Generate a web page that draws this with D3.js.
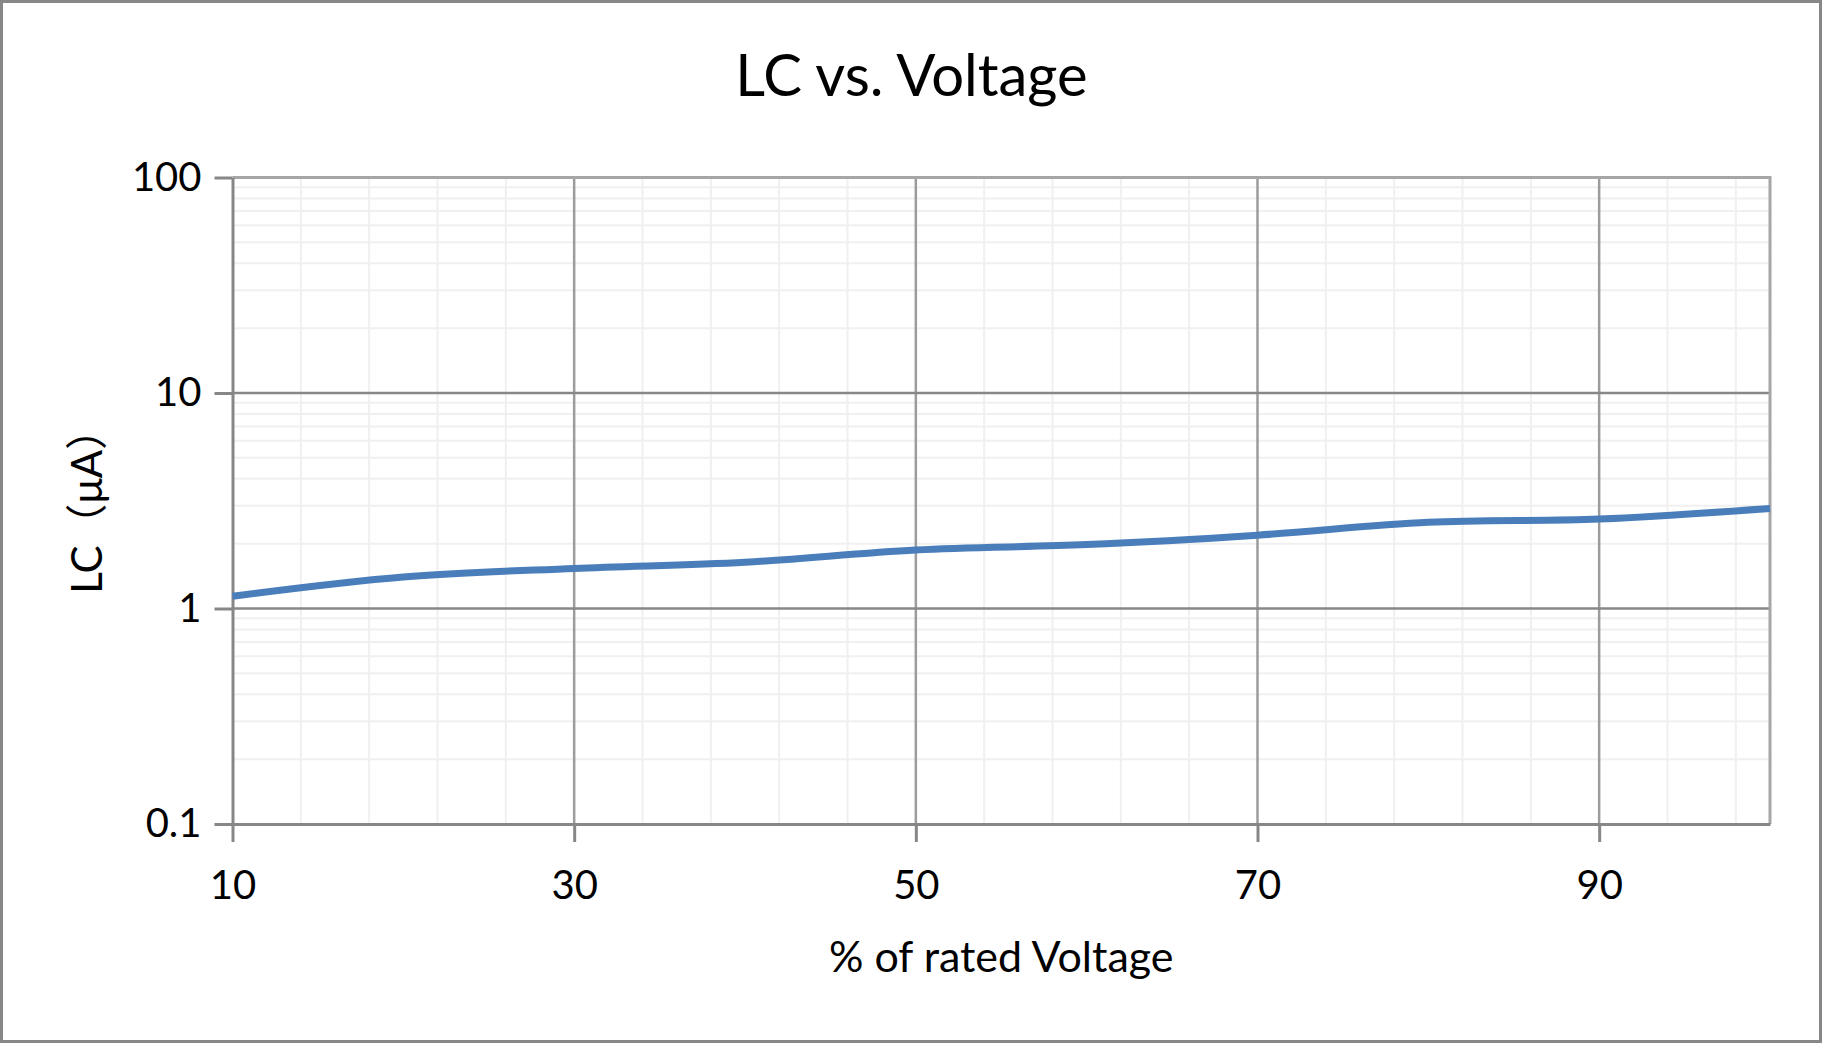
<html>

<head>
  <script src="https://d3js.org/d3.v7.min.js"></script>
</head>

<style>
  body {
    margin: 0;
    background: white;
  }

  text {
    font-family: Lato, "Noto Sans CJK SC", sans-serif;
    fill: black;
  }

  .minor {
    stroke: #f0f0f0;
    stroke-width: 2px;
  }
</style>

<body>

  <svg id="chart" width="1823" height="1044"></svg>

  <script>

    // LC vs voltage data
    const voltage = [10, 20, 30, 40, 50, 60, 70, 80, 90, 100];
    const lc = [1.14, 1.40, 1.535, 1.64, 1.87, 1.98, 2.19, 2.51, 2.60, 2.91];

    const xTicks = [10, 30, 50, 70, 90];
    const yTicks = [0.1, 1, 10, 100];
    const yTickLabels = ["0.1", "1", "10", "100"];

    const titleText = "LC vs. Voltage";
    const xTitle = "% of rated Voltage";
    const yTitle = "LC（μA）";

    const svg = d3.select("svg#chart");
    const width = +svg.attr("width");
    const height = +svg.attr("height");
    const margin = { top: 177.5, right: 53, bottom: 220, left: 232.5 };
    const chartWidth = width - margin.left - margin.right;
    const chartHeight = height - margin.top - margin.bottom;

    // outer frame
    svg.append("rect")
      .attr("x", 1.5).attr("y", 1.5)
      .attr("width", width - 4).attr("height", height - 4)
      .attr("fill", "white")
      .attr("stroke", "#878787")
      .attr("stroke-width", 3);

    const xScale = d3.scaleLinear().domain([10, 100]).range([0, chartWidth]);
    const yScale = d3.scaleLog().domain([0.1, 100]).range([chartHeight, 0]);

    const chartArea = svg.append("g")
      .attr("transform", `translate(${margin.left},${margin.top})`);

    // minor gridlines
    const xMinor = d3.range(14, 100, 4).filter(v => (v - 10) % 20 != 0);
    const yMinor = [];
    [0.1, 1, 10].forEach(d => {
      for (let k = 2; k <= 9; k++) yMinor.push(d * k);
    });

    chartArea.selectAll("line.xminor")
      .data(xMinor)
      .join("line")
      .attr("class", "minor")
      .attr("x1", d => xScale(d)).attr("x2", d => xScale(d))
      .attr("y1", 0).attr("y2", chartHeight);

    chartArea.selectAll("line.yminor")
      .data(yMinor)
      .join("line")
      .attr("class", "minor")
      .attr("x1", 0).attr("x2", chartWidth)
      .attr("y1", d => yScale(d)).attr("y2", d => yScale(d));

    // major gridlines
    chartArea.selectAll("line.xmajor")
      .data(xTicks.slice(1))
      .join("line")
      .attr("x1", d => xScale(d)).attr("x2", d => xScale(d))
      .attr("y1", 0).attr("y2", chartHeight)
      .attr("stroke", "#9c9c9c")
      .attr("stroke-width", 2.5);

    chartArea.selectAll("line.ymajor")
      .data(yTicks.slice(1, -1))
      .join("line")
      .attr("x1", 0).attr("x2", chartWidth)
      .attr("y1", d => yScale(d)).attr("y2", d => yScale(d))
      .attr("stroke", "#878787")
      .attr("stroke-width", 2.5);

    // plot border top/right
    chartArea.append("path")
      .attr("d", `M0,0H${chartWidth}V${chartHeight}`)
      .attr("fill", "none")
      .attr("stroke", "#a6a6a6")
      .attr("stroke-width", 3);

    // axes
    const leftAxis = d3.axisLeft(yScale)
      .tickValues(yTicks)
      .tickFormat((d, i) => yTickLabels[i])
      .tickSize(18)
      .tickPadding(13)
      .tickSizeOuter(0);

    const yAxisG = chartArea.append("g")
      .attr("class", "y axis")
      .call(leftAxis);

    const bottomAxis = d3.axisBottom(xScale)
      .tickValues(xTicks)
      .tickSize(18)
      .tickPadding(29)
      .tickSizeOuter(0);

    const xAxisG = chartArea.append("g")
      .attr("class", "x axis")
      .attr("transform", `translate(0,${chartHeight})`)
      .call(bottomAxis);

    [yAxisG, xAxisG].forEach(g => {
      g.attr("font-family", null).attr("font-size", null);
      g.select(".domain").attr("stroke", "#878787").attr("stroke-width", 3);
      g.selectAll(".tick line").attr("stroke", "#878787").attr("stroke-width", 3);
      g.selectAll(".tick text").style("font-size", "40px");
    });

    // line
    const lineGen = d3.line()
      .x(d => xScale(d[0]))
      .y(d => yScale(d[1]))
      .curve(d3.curveCatmullRom.alpha(0.5));

    chartArea.append("path")
      .datum(d3.zip(voltage, lc))
      .attr("d", lineGen)
      .attr("fill", "none")
      .attr("stroke", "#4a7ebb")
      .attr("stroke-width", 7);

    // titles
    svg.append("text")
      .attr("x", width / 2)
      .attr("y", 96)
      .attr("text-anchor", "middle")
      .style("font-size", "58px")
      .text(titleText);

    svg.append("text")
      .attr("x", margin.left + chartWidth / 2)
      .attr("y", 972)
      .attr("text-anchor", "middle")
      .style("font-size", "43px")
      .text(xTitle);

    svg.append("text")
      .attr("transform", `translate(102,${margin.top + chartHeight / 2}) rotate(-90)`)
      .attr("text-anchor", "middle")
      .style("font-size", "42px")
      .text(yTitle);

  </script>

</body>

</html>
